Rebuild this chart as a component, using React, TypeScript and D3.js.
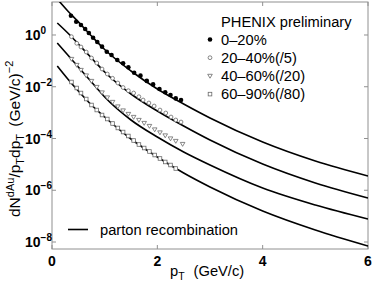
import React, { useEffect, useRef } from "react";
import * as d3 from "d3";

// parton recombination curves, sampled at these pT values
const curvePt = [0.1, 0.3, 0.5, 0.75, 1, 1.5, 2, 2.5, 3, 4, 5, 6];
const curve0020 = [24.5, 8.5, 3.2, 0.91, 0.275, 0.0406, 0.00818, 0.00215, 6.2e-4, 7.3e-5, 1.35e-5, 3.56e-6];
const curve2040 = [2.91, 1.19, 0.449, 0.129, 0.0372, 0.00525, 1.156e-3, 3.04e-4, 8.75e-5, 1.03e-5, 1.91e-6, 5.01e-7];
const curve4060 = [0.491, 0.1687, 0.058, 0.01527, 0.00402, 5.19e-4, 1.14e-4, 3.01e-5, 9.46e-6, 1.22e-6, 2.69e-7, 7.74e-8];
const curve6090 = [0.0634, 0.01995, 0.00685, 0.001971, 6.78e-4, 9.57e-5, 1.93e-5, 4.64e-6, 1.34e-6, 1.58e-7, 2.91e-8, 7.0e-9];

// PHENIX preliminary points
const pt0020 = [0.36, 0.46, 0.55, 0.63, 0.7, 0.78, 0.86, 0.95, 1.04, 1.13, 1.24, 1.35, 1.45, 1.56, 1.68, 1.8, 1.92, 2.04, 2.15, 2.25, 2.35, 2.45];
const val0020 = [5.57, 3.27, 2.43, 1.71, 1.19, 0.787, 0.537, 0.355, 0.226, 0.169, 0.108, 0.0813, 0.0562, 0.0347, 0.0269, 0.0168, 0.0123, 0.0082, 0.00617, 0.00479, 0.00355, 0.00309];

const pt2040 = [0.37, 0.47, 0.55, 0.65, 0.75, 0.85, 0.95, 1.05, 1.15, 1.25, 1.35, 1.45, 1.55, 1.65, 1.73, 1.84, 1.94, 2.05, 2.16, 2.26, 2.35, 2.45];
const val2040 = [0.859, 0.478, 0.344, 0.22, 0.129, 0.0828, 0.0485, 0.0311, 0.0212, 0.01396, 0.00935, 0.00703, 0.00573, 0.00412, 0.00307, 0.002355, 0.0018, 0.00126, 9.67e-4, 6.78e-4, 5.19e-4, 4.34e-4];

const pt4060 = [0.37, 0.47, 0.55, 0.65, 0.75, 0.85, 0.95, 1.05, 1.15, 1.25, 1.35, 1.45, 1.55, 1.65, 1.75, 1.85, 1.95, 2.05, 2.15, 2.25, 2.35, 2.48];
const val4060 = [0.1182, 0.0693, 0.0444, 0.0272, 0.01668, 0.00977, 0.006, 0.00384, 0.00258, 0.001726, 0.001209, 8.85e-4, 6.78e-4, 5.19e-4, 3.97e-4, 3.04e-4, 2.23e-4, 1.71e-4, 1.31e-4, 1.0e-4, 8.0e-5, 6.12e-5];

const pt6090 = [0.37, 0.47, 0.55, 0.65, 0.75, 0.85, 0.95, 1.05, 1.15, 1.25, 1.35, 1.45, 1.55, 1.65, 1.75, 1.85, 1.95, 2.05, 2.15, 2.25, 2.35];
const val6090 = [0.01527, 0.00895, 0.00573, 0.00336, 0.001971, 0.001262, 8.09e-4, 5.67e-4, 3.8e-4, 2.55e-4, 1.78e-4, 1.25e-4, 8.37e-5, 5.86e-5, 4.29e-5, 3.15e-5, 2.3e-5, 1.69e-5, 1.24e-5, 9.46e-6, 6.93e-6];

const xTicks = [0, 2, 4, 6];
const yTickExps = [0, -2, -4, -6, -8];
const legendLabels = ["0\u201320%", "20\u201340%(/5)", "40\u201360%(/20)", "60\u201390%(/80)"];

const FONT = "'Liberation Sans', Arial, Helvetica, sans-serif";

const App = () => {
  const svgRef = useRef<SVGSVGElement>(null);

  useEffect(() => {
    const svg = d3.select(svgRef.current);
    svg.selectAll("*").remove();

    const left = 52, right = 368, top = 2, bottom = 249;

    const x = d3.scaleLinear().domain([0, 6]).range([left, right]);
    const y = d3.scaleLog().domain([Math.pow(10, -8.27), Math.pow(10, 1.275)]).range([bottom, top]);

    svg.append("defs").append("clipPath").attr("id", "plotclip")
      .append("rect").attr("x", left).attr("y", top).attr("width", right - left).attr("height", bottom - top);

    // frame
    svg.append("rect")
      .attr("x", left).attr("y", top).attr("width", right - left).attr("height", bottom - top)
      .attr("fill", "none").attr("stroke", "#909090").attr("stroke-width", 1);

    const tickLen = 4;
    xTicks.forEach(t => {
      svg.append("line").attr("x1", x(t)).attr("x2", x(t)).attr("y1", bottom).attr("y2", bottom - tickLen)
        .attr("stroke", "#909090");
      svg.append("line").attr("x1", x(t)).attr("x2", x(t)).attr("y1", top).attr("y2", top + tickLen)
        .attr("stroke", "#909090");
      svg.append("text").attr("x", x(t)).attr("y", 266).attr("text-anchor", "middle")
        .attr("font-family", FONT).attr("font-weight", "bold").attr("font-size", 14).text(t);
    });

    yTickExps.forEach(e => {
      const yy = y(Math.pow(10, e));
      svg.append("line").attr("x1", left).attr("x2", left + tickLen).attr("y1", yy).attr("y2", yy)
        .attr("stroke", "#909090");
      svg.append("line").attr("x1", right).attr("x2", right - tickLen).attr("y1", yy).attr("y2", yy)
        .attr("stroke", "#909090");
      const t = svg.append("text").attr("x", 25).attr("y", yy + 5)
        .attr("font-family", FONT).attr("font-weight", "bold").attr("font-size", 14);
      t.append("tspan").text("10");
      t.append("tspan").attr("dy", -6).attr("font-size", 10).text(e === 0 ? "0" : "\u2212" + Math.abs(e));
    });

    // curves
    const line = d3.line<number>()
      .x((_, i) => x(curvePt[i]))
      .y(d => y(d))
      .curve(d3.curveMonotoneX);

    const g = svg.append("g").attr("clip-path", "url(#plotclip)");
    [curve0020, curve2040, curve4060, curve6090].forEach(c => {
      g.append("path").datum(c).attr("d", line)
        .attr("fill", "none").attr("stroke", "#000").attr("stroke-width", 1.6);
    });

    const gray = "#6a6a6a";
    const drawMarker = (sel: any, kind: number, cx: number, cy: number) => {
      if (kind === 0) {
        sel.append("circle").attr("cx", cx).attr("cy", cy).attr("r", 2.3).attr("fill", "#000");
      } else if (kind === 1) {
        sel.append("circle").attr("cx", cx).attr("cy", cy).attr("r", 1.9)
          .attr("fill", "#fff").attr("stroke", gray).attr("stroke-width", 0.8);
      } else if (kind === 2) {
        const s = 2.3;
        sel.append("path")
          .attr("d", `M${cx - s},${cy - s * 0.7}L${cx + s},${cy - s * 0.7}L${cx},${cy + s * 1.0}Z`)
          .attr("fill", "#fff").attr("stroke", gray).attr("stroke-width", 0.8);
      } else {
        const s = 1.8;
        sel.append("rect").attr("x", cx - s).attr("y", cy - s).attr("width", 2 * s).attr("height", 2 * s)
          .attr("fill", "#fff").attr("stroke", gray).attr("stroke-width", 0.8);
      }
    };

    const sets = [
      [pt0020, val0020],
      [pt2040, val2040],
      [pt4060, val4060],
      [pt6090, val6090],
    ];
    sets.forEach(([pts, vals], k) => {
      pts.forEach((p, i) => drawMarker(g, k, x(p), y(vals[i])));
    });

    // legend
    const fs = 14.7;
    svg.append("text").attr("x", 221).attr("y", 26.5).attr("font-family", FONT).attr("font-size", fs)
      .text("PHENIX preliminary");
    legendLabels.forEach((lab, i) => {
      const by = 44.5 + i * 18.2;
      drawMarker(svg, i, 210, by - 5);
      svg.append("text").attr("x", 221).attr("y", by).attr("font-family", FONT).attr("font-size", fs).text(lab);
    });

    svg.append("line").attr("x1", 68).attr("x2", 88).attr("y1", 229.5).attr("y2", 229.5)
      .attr("stroke", "#000").attr("stroke-width", 1.6);
    svg.append("text").attr("x", 100).attr("y", 235).attr("font-family", FONT).attr("font-size", fs)
      .text("parton recombination");

    // x title
    const xt = svg.append("text").attr("x", 170).attr("y", 276).attr("font-family", FONT).attr("font-size", fs);
    xt.append("tspan").text("p");
    xt.append("tspan").attr("dy", 4).attr("font-size", 10.5).text("T");
    xt.append("tspan").attr("dy", -4).attr("dx", 9).text("(GeV/c)");

    // y title
    const yt = svg.append("text").attr("transform", "translate(20,217) rotate(-90)")
      .attr("font-family", FONT).attr("font-size", 15.5);
    yt.append("tspan").text("dN");
    yt.append("tspan").attr("dy", -6).attr("font-size", 11).text("dAu");
    yt.append("tspan").attr("dy", 6).text("/p");
    yt.append("tspan").attr("dy", 4).attr("font-size", 11).text("T");
    yt.append("tspan").attr("dy", -4).text("dp");
    yt.append("tspan").attr("dy", 4).attr("font-size", 11).text("T");
    yt.append("tspan").attr("dy", -4).attr("dx", 3).text(" (GeV/c)");
    yt.append("tspan").attr("dy", -7).attr("font-size", 11).text("\u22122");
  }, []);

  return (
    <svg ref={svgRef} width={374} height={284}
      style={{ position: "absolute", left: 0, top: 0, background: "#fff" }}></svg>
  );
};

export default App;
